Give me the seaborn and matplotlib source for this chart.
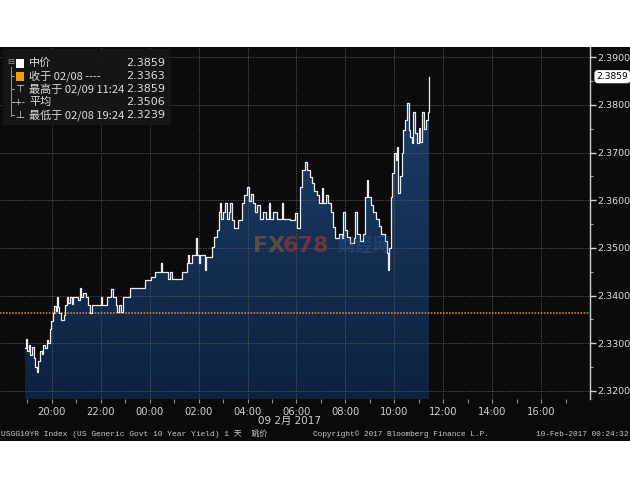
import numpy as np
import pandas as pd
import matplotlib
matplotlib.use("Agg")
import matplotlib.pyplot as plt
import seaborn as sns
from matplotlib.patches import Rectangle
from matplotlib.colors import LinearSegmentedColormap
from matplotlib.transforms import blended_transform_factory
from matplotlib.ticker import MultipleLocator, FixedLocator, FixedFormatter, FormatStrFormatter

# ---------------- data ----------------
times = ["18:54", "18:57", "19:00", "19:04", "19:07", "19:11", "19:15", "19:19", "19:24", "19:27",
         "19:31", "19:35", "19:39", "19:43", "19:47", "19:51", "19:55", "19:59", "20:03", "20:06",
         "20:09", "20:12", "20:14", "20:18", "20:22", "20:29", "20:32", "20:36", "20:40", "20:44",
         "20:49", "20:53", "21:05", "21:08", "21:11", "21:17", "21:23", "21:29", "21:34", "21:38",
         "22:01", "22:04", "22:16", "22:26", "22:29", "22:37", "22:41", "22:45", "22:49", "22:55",
         "23:12", "23:48", "00:04", "00:13", "00:28", "00:31", "00:46", "00:50", "00:54", "01:18",
         "01:31", "01:34", "01:37", "01:43", "01:53", "01:56", "02:01", "02:04", "02:12", "02:16",
         "02:19", "02:32", "02:38", "02:44", "02:49", "02:52", "02:55", "03:00", "03:05", "03:09",
         "03:14", "03:18", "03:22", "03:28", "03:36", "03:46", "03:52", "03:58", "04:03", "04:08",
         "04:14", "04:18", "04:24", "04:31", "04:38", "04:45", "04:52", "04:56", "05:03", "05:12",
         "05:24", "05:28", "05:36", "05:45", "05:56", "06:01", "06:09", "06:13", "06:21", "06:26",
         "06:32", "06:38", "06:44", "06:50", "06:56", "07:02", "07:05", "07:12", "07:18", "07:24",
         "07:30", "07:35", "07:45", "07:52", "07:55", "07:58", "08:05", "08:12", "08:20", "08:24",
         "08:28", "08:36", "08:44", "08:49", "08:52", "08:56", "09:02", "09:08", "09:15", "09:22",
         "09:28", "09:36", "09:42", "09:45", "09:48", "09:51", "09:55", "10:00", "10:04", "10:07",
         "10:10", "10:13", "10:18", "10:22", "10:26", "10:31", "10:35", "10:39", "10:43", "10:47",
         "10:51", "10:55", "11:00", "11:04", "11:09", "11:14", "11:18", "11:22", "11:24", "11:26"]
values = [2.3290, 2.3308, 2.3284, 2.3296, 2.3276, 2.3292, 2.3270, 2.3250, 2.3239, 2.3262,
          2.3284, 2.3278, 2.3296, 2.3290, 2.3307, 2.3300, 2.3330, 2.3346, 2.3363, 2.3378,
          2.3368, 2.3398, 2.3377, 2.3363, 2.3349, 2.3360, 2.3380, 2.3397, 2.3385, 2.3397,
          2.3382, 2.3397, 2.3390, 2.3416, 2.3397, 2.3406, 2.3397, 2.3380, 2.3363, 2.3380,
          2.3397, 2.3380, 2.3397, 2.3414, 2.3397, 2.3380, 2.3365, 2.3380, 2.3365, 2.3397,
          2.3416, 2.3433, 2.3440, 2.3449, 2.3468, 2.3449, 2.3435, 2.3449, 2.3435, 2.3449,
          2.3468, 2.3485, 2.3468, 2.3485, 2.3520, 2.3485, 2.3468, 2.3485, 2.3485, 2.3454,
          2.3480, 2.3502, 2.3523, 2.3537, 2.3575, 2.3594, 2.3560, 2.3575, 2.3594, 2.3560,
          2.3575, 2.3594, 2.3558, 2.3542, 2.3558, 2.3594, 2.3610, 2.3628, 2.3598, 2.3612,
          2.3594, 2.3575, 2.3590, 2.3560, 2.3575, 2.3560, 2.3594, 2.3560, 2.3575, 2.3560,
          2.3594, 2.3560, 2.3560, 2.3558, 2.3573, 2.3542, 2.3628, 2.3663, 2.3680, 2.3663,
          2.3649, 2.3636, 2.3620, 2.3610, 2.3594, 2.3626, 2.3594, 2.3610, 2.3594, 2.3575,
          2.3544, 2.3520, 2.3530, 2.3520, 2.3575, 2.3537, 2.3523, 2.3510, 2.3520, 2.3575,
          2.3530, 2.3515, 2.3530, 2.3607, 2.3642, 2.3607, 2.3590, 2.3575, 2.3560, 2.3545,
          2.3530, 2.3515, 2.3490, 2.3454, 2.3500, 2.3607, 2.3657, 2.3700, 2.3684, 2.3712,
          2.3615, 2.3650, 2.3700, 2.3747, 2.3768, 2.3804, 2.3747, 2.3732, 2.3720, 2.3785,
          2.3740, 2.3720, 2.3751, 2.3722, 2.3785, 2.3750, 2.3768, 2.3785, 2.3859, 2.3859]

prev_close = 2.3363
last_value = 2.3859
y_ticks = [2.32, 2.33, 2.34, 2.35, 2.36, 2.37, 2.38, 2.39]
x_tick_labels = ["20:00", "22:00", "00:00", "02:00", "04:00", "06:00",
                 "08:00", "10:00", "12:00", "14:00", "16:00"]
legend_rows = [("中价", "2.3859"), ("收于 02/08 ----", "2.3363"),
               ("最高于 02/09 11:24", "2.3859"), ("平均", "2.3506"),
               ("最低于 02/08 19:24", "2.3239")]
date_label = "09 2月 2017"
footer_left = "USGG10YR Index (US Generic Govt 10 Year Yield) 1 天  跳价"
footer_mid = "Copyright© 2017 Bloomberg Finance L.P."
footer_right = "10-Feb-2017 00:24:32"


def to_hours(s):
    h, m = map(int, s.split(":"))
    v = h + m / 60.0 - 18.0
    return v + 24.0 if h < 18 else v


df = pd.DataFrame({"t": [to_hours(s) for s in times], "v": values})

# ---------------- figure ----------------
plt.rcParams['font.family'] = ['DejaVu Sans', 'Noto Sans CJK SC']
CJK = ['Noto Sans CJK SC', 'DejaVu Sans']
MONO = ['Liberation Mono', 'Noto Sans CJK SC']

W, H = 630, 490
def fx(x): return x / W
def fy(y): return 1 - y / H

BG = '#0b0b0e'
fig = plt.figure(figsize=(6.3, 4.9), dpi=100, facecolor='white')
fig.patches.append(Rectangle((0, fy(441)), 1, fy(47) - fy(441), transform=fig.transFigure,
                             facecolor=BG, edgecolor='none', zorder=-10))
ax = fig.add_axes([0, fy(399), fx(590), fy(47) - fy(399)])
ax.set_facecolor(BG)

ylo, yhi = 2.31832, 2.39212
xlo, xhi = -0.12, 24.0

# filled area with gradient
poly = ax.fill_between(df["t"], df["v"], ylo, step='post', facecolor='none', edgecolor='none')
grad = np.linspace(1, 0, 256).reshape(-1, 1)
cmap = LinearSegmentedColormap.from_list("g", ['#0d2240', '#1d3f6a'])
im = ax.imshow(grad, extent=[xlo, xhi, ylo, 2.3859], aspect='auto', cmap=cmap, zorder=1,
               interpolation='bilinear', origin='upper')
im.set_clip_path(poly.get_paths()[0], transform=ax.transData)
ax.set_xlim(xlo, xhi)
ax.set_ylim(ylo, yhi)

# grid
for yv in y_ticks:
    ax.axhline(yv, color='#5a5a5a', lw=0.6, ls=(0, (1.5, 1.5)), zorder=2.5)
for xv in range(2, 24, 2):
    ax.axvline(xv, color='#5a5a5a', lw=0.6, ls=(0, (1.5, 1.5)), zorder=2.5)

# previous close line
ax.axhline(prev_close, color='#ff8c1a', lw=1.1, ls=(0, (1, 1)), zorder=2.6)

# price line
sns.lineplot(data=df, x="t", y="v", drawstyle='steps-post', color='#ececec', lw=0.9,
             ax=ax, zorder=3, estimator=None)

# watermark
fig.text(fx(253), fy(246), "FX", fontsize=16, fontweight='bold', color='#9a6a35', alpha=0.5,
         va='center', ha='left', zorder=4)
fig.text(fx(283), fy(246), "678", fontsize=16, fontweight='bold', color='#b23a2a', alpha=0.55,
         va='center', ha='left', zorder=4)
fig.text(fx(338), fy(246), "财经网", fontsize=13, fontweight='bold', color='#3a6aa8', alpha=0.3,
         va='center', ha='left', family=CJK, zorder=4)

# axes styling
for s in ['top', 'left', 'bottom']:
    ax.spines[s].set_visible(False)
ax.spines['right'].set_color('#d0d0d0')
ax.spines['right'].set_linewidth(1.0)
ax.yaxis.tick_right()
ax.yaxis.set_major_locator(FixedLocator(y_ticks))
ax.yaxis.set_major_formatter(FormatStrFormatter('%.4f'))
ax.yaxis.set_minor_locator(MultipleLocator(0.005))
ax.tick_params(axis='y', which='major', colors='#d0d0d0', labelcolor='#e0e0e0', length=4,
               width=1.0, labelsize=6.8, pad=1.5, direction='out')
ax.tick_params(axis='y', which='minor', colors='#a0a0a0', length=2.5, width=0.8, direction='out')
ax.xaxis.set_major_locator(FixedLocator(list(range(2, 24, 2))))
ax.xaxis.set_major_formatter(FixedFormatter(x_tick_labels))
ax.xaxis.set_minor_locator(FixedLocator(list(range(1, 24, 2))))
ax.tick_params(axis='x', which='major', colors='#909090', labelcolor='#d0d0d0', length=3,
               width=0.8, labelsize=7.2, pad=2.5, direction='out')
ax.tick_params(axis='x', which='minor', colors='#909090', length=3, width=0.8, direction='out')
ax.set_xlabel("")
ax.set_ylabel("")

# last-value label
ax.text(1.011, last_value, f"{last_value:.4f}",
        transform=blended_transform_factory(ax.transAxes, ax.transData),
        va='center', ha='left', fontsize=6.6, color='black', zorder=6, clip_on=False,
        bbox=dict(boxstyle='round,pad=0.15,rounding_size=0.3', facecolor='white', edgecolor='white'))

# legend box
fig.patches.append(Rectangle((fx(3), fy(125)), fx(168), fy(49) - fy(125), transform=fig.transFigure,
                             facecolor='#161618', edgecolor='none', alpha=0.92, zorder=5))
rows_y = [63, 76, 89, 102, 115]
txtc = '#dcdcdc'
fig.lines.append(plt.Line2D([fx(11), fx(11)], [fy(67), fy(116)], transform=fig.transFigure,
                            color='#9a9a9a', lw=0.7, zorder=6))
for yy in rows_y[1:]:
    fig.lines.append(plt.Line2D([fx(11), fx(14)], [fy(yy), fy(yy)], transform=fig.transFigure,
                                color='#9a9a9a', lw=0.7, zorder=6))
fig.text(fx(11), fy(62), "⊟", fontsize=6, color='#9a9a9a', ha='center', va='center', zorder=7)
fig.patches.append(Rectangle((fx(16), fy(68)), fx(8), fy(59) - fy(68), transform=fig.transFigure,
                             facecolor='white', edgecolor='none', zorder=7))
fig.patches.append(Rectangle((fx(16), fy(81)), fx(8), fy(72) - fy(81), transform=fig.transFigure,
                             facecolor='#f39c12', edgecolor='none', zorder=7))
fig.text(fx(20), fy(89), "⊤", fontsize=7.5, color=txtc, ha='center', va='center', zorder=7)
fig.text(fx(19), fy(102), "-+-", fontsize=6, color=txtc, ha='center', va='center', zorder=7)
fig.text(fx(20), fy(115), "⊥", fontsize=7.5, color=txtc, ha='center', va='center', zorder=7)
for (lab, val), yy in zip(legend_rows, rows_y):
    fig.text(fx(29), fy(yy), lab, fontsize=8, color=txtc, ha='left', va='center', family=CJK, zorder=7)
    fig.text(fx(165), fy(yy), val, fontsize=8, color=txtc, ha='right', va='center', zorder=7)

# date label and footer
fig.text(fx(290), fy(421), date_label, fontsize=7.5, color='#d0d0d0', ha='center', va='center',
         family=['DejaVu Sans', 'Noto Sans CJK SC'])
fig.text(fx(1), fy(434), footer_left, fontsize=5.8, color='#c8c8c8', ha='left', va='center', family=MONO)
fig.text(fx(313), fy(434), footer_mid, fontsize=5.6, color='#c8c8c8', ha='left', va='center', family=MONO)
fig.text(fx(628), fy(434), footer_right, fontsize=5.6, color='#c8c8c8', ha='right', va='center', family=MONO)

fig.savefig("out.png", dpi=100, facecolor='white')
